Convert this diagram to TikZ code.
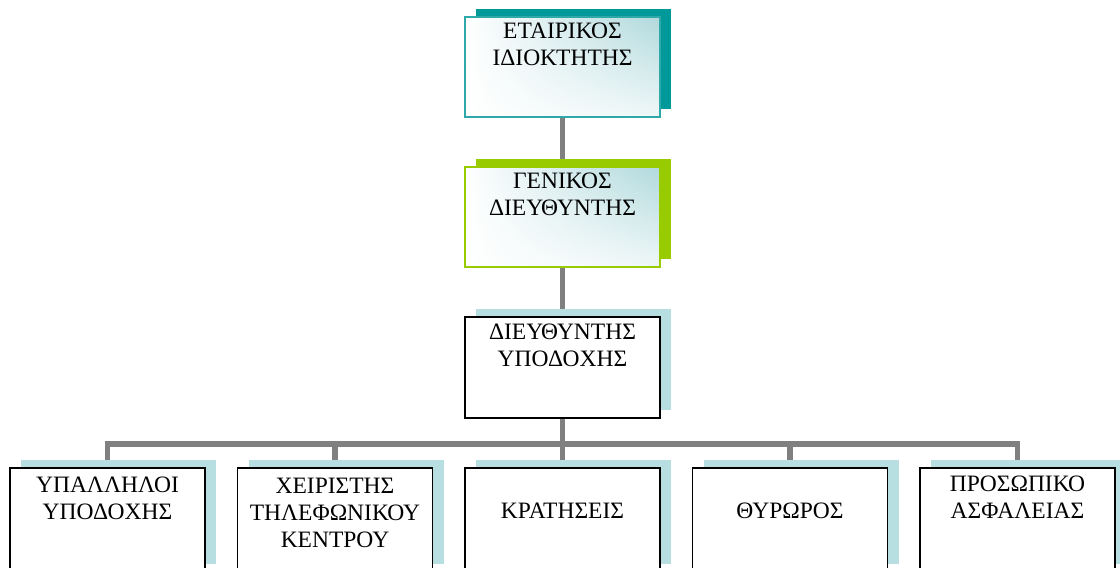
\documentclass[tikz,border=0pt]{standalone}
\usepackage{fontspec}
\setmainfont{Liberation Serif}
\usetikzlibrary{shadows,shadings,backgrounds}
\definecolor{tealc}{HTML}{009999}
\definecolor{tealb}{HTML}{2EA8A8}
\definecolor{greenc}{HTML}{99CC00}
\definecolor{lightc}{HTML}{B7DEE1}
\definecolor{gradc}{HTML}{B0D9DC}
\definecolor{connc}{HTML}{808080}
\begin{document}
\begin{tikzpicture}[x=1pt,y=-1pt,
  box/.style={rectangle, minimum width=195pt, minimum height=100pt, inner sep=0pt, outer sep=0pt},
  shad/.style={drop shadow={shadow xshift=11pt, shadow yshift=8.5pt, fill=#1, opacity=1}},
  gradbox/.style={box, shade, upper left=white, upper right=gradc, lower left=white, lower right=white!80!gradc, line width=1.6pt},
  plainbox/.style={box, fill=white, draw=black, line width=1.8pt, shad=lightc},
  lbl/.style={font=\fontsize{23.5}{27}\selectfont, inner sep=0pt, anchor=base},
  conn/.style={draw=connc, line width=5.5pt, line join=miter}
]
\useasboundingbox (0,0) rectangle (1120,568);
\clip (0,0) rectangle (1120,568);

% boxes
\node[gradbox, draw=tealb, shad=tealc] (t1) at (562.5,67) {};
\node[gradbox, draw=greenc, shad=greenc] (t2) at (562.5,217) {};
\node[plainbox, minimum height=101pt] (t3) at (562.5,367.5) {};
\node[plainbox, minimum height=104pt] (b1) at (107.5,520) {};
\node[plainbox, minimum height=104pt] (b2) at (335,520) {};
\node[plainbox, minimum height=104pt] (b3) at (562.5,520) {};
\node[plainbox, minimum height=104pt] (b4) at (790,520) {};
\node[plainbox, minimum height=104pt] (b5) at (1017.5,520) {};

% texts
\node[lbl] (l1) at ([yshift=-21pt]t1.north) {\begin{tabular}[t]{@{}c@{}}ΕΤΑΙΡΙΚΟΣ\\ΙΔΙΟΚΤΗΤΗΣ\end{tabular}};
\node[lbl] (l2) at ([yshift=-21pt]t2.north) {\begin{tabular}[t]{@{}c@{}}ΓΕΝΙΚΟΣ\\ΔΙΕΥΘΥΝΤΗΣ\end{tabular}};
\node[lbl] (l3) at ([yshift=-22pt]t3.north) {\begin{tabular}[t]{@{}c@{}}ΔΙΕΥΘΥΝΤΗΣ\\ΥΠΟΔΟΧΗΣ\end{tabular}};
\node[lbl] (m1) at (107.5,492) {\begin{tabular}[t]{@{}c@{}}ΥΠΑΛΛΗΛΟΙ\\ΥΠΟΔΟΧΗΣ\end{tabular}};
\node[lbl] (m2) at (335,493) {\begin{tabular}[t]{@{}c@{}}ΧΕΙΡΙΣΤΗΣ\\ΤΗΛΕΦΩΝΙΚΟΥ\\ΚΕΝΤΡΟΥ\end{tabular}};
\node[lbl] (m3) at (562.5,518) {ΚΡΑΤΗΣΕΙΣ};
\node[lbl] (m4) at (790,518) {ΘΥΡΩΡΟΣ};
\node[lbl] (m5) at (1017.5,491) {\begin{tabular}[t]{@{}c@{}}ΠΡΟΣΩΠΙΚΟ\\ΑΣΦΑΛΕΙΑΣ\end{tabular}};

% connectors
\coordinate (bus) at (562.5,444);
\begin{scope}[on background layer]
  \draw[conn] (t1.south) -- (t2.north);
  \draw[conn] (t2.south) -- (t3.north);
  \draw[conn] (t3.south) -- (t3.south |- bus);
  \draw[conn] (b1.north) |- (b5.north |- bus) -- (b5.north);
  \draw[conn] (b2.north) -- (b2.north |- bus);
  \draw[conn] (b3.north) -- (b3.north |- bus);
  \draw[conn] (b4.north) -- (b4.north |- bus);
\end{scope}
\end{tikzpicture}
\end{document}
